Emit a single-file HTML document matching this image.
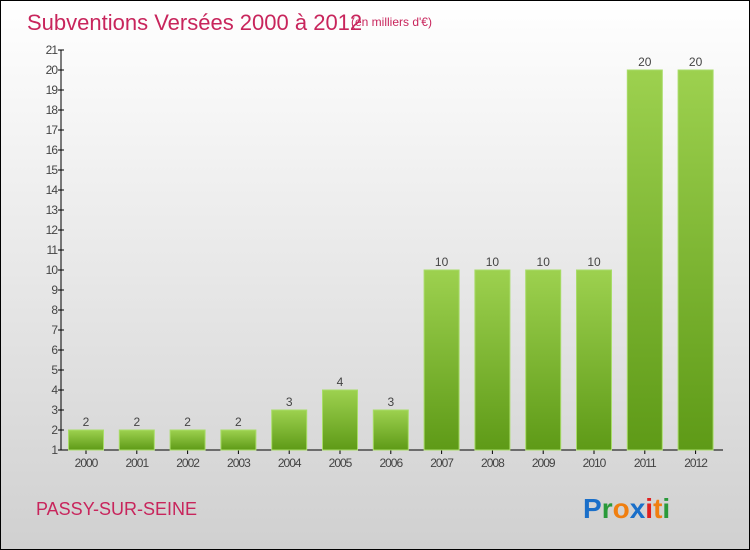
<!DOCTYPE html>
<html><head><meta charset="utf-8"><style>
body{margin:0}
#c{position:relative;width:748px;height:548px;border:1px solid #000;background:linear-gradient(#ffffff,#d0d0d0);font-family:"Liberation Sans",sans-serif;overflow:hidden}
</style></head><body>
<div id="c">
<svg width="748" height="548" style="position:absolute;left:0;top:0">
<defs><linearGradient id="g" x1="0" y1="0" x2="0" y2="1"><stop offset="0" stop-color="#9dd14f"/><stop offset="1" stop-color="#5e9a17"/></linearGradient></defs>
<text x="26" y="29" font-size="22" fill="#c8255c">Subventions Versées 2000 à 2012</text>
<text x="350" y="25" font-size="12" fill="#c8255c">(en milliers d'€)</text>
<text x="35" y="514" font-size="18" fill="#c8255c">PASSY-SUR-SEINE</text>
<g id="axes"></g><g id="bars"></g>
<text x="582" y="517" font-size="28" font-weight="bold"><tspan fill="#1a6fc9">P</tspan><tspan fill="#2a9a3a">r</tspan><tspan fill="#f07f10">o</tspan><tspan fill="#1a6fc9">x</tspan><tspan fill="#e02020">i</tspan><tspan fill="#f07f10">t</tspan><tspan fill="#2a9a3a">i</tspan></text>
</svg>
<script>
const categories=["2000","2001","2002","2003","2004","2005","2006","2007","2008","2009","2010","2011","2012"];
const values=[2,2,2,2,3,4,3,10,10,10,10,20,20];
const yTicks=[1,2,3,4,5,6,7,8,9,10,11,12,13,14,15,16,17,18,19,20,21];
const NS="http://www.w3.org/2000/svg";
const y=v=>449-(v-1)*20;
const x=i=>85+i*50.8;
const ax=document.getElementById('axes'),bg=document.getElementById('bars');
function mk(t,a,p){const e=document.createElementNS(NS,t);for(const k in a)e.setAttribute(k,a[k]);p.appendChild(e);return e;}
let l=mk('line',{x1:60,y1:y(21),x2:60,y2:449,stroke:'#000'},ax);


l=mk('line',{x1:60,y1:449,x2:722,y2:449,stroke:'#000'},ax);


yTicks.forEach(v=>{
 const t=mk('line',{x1:57,x2:63,y1:y(v),y2:y(v),stroke:'#000'},ax);
 
 
 const tx=mk('text',{x:56,y:y(v)+4,'font-size':12,fill:'#444','text-anchor':'end','letter-spacing':'-1'},ax);
 tx.textContent=v;
 
 
});
categories.forEach((c,i)=>{
 const cx=x(i),w=35,top=y(values[i]);
 const r=mk('rect',{x:cx-w/2,y:top,width:w,height:449-top,fill:'url(#g)',stroke:'#a8dc68','stroke-width':1},bg);
 
 
 const vt=mk('text',{x:cx,y:top-4,'font-size':12,fill:'#444','text-anchor':'middle'},bg);
 vt.textContent=values[i];
 
 
 const tk=mk('line',{x1:cx,x2:cx,y1:449,y2:453,stroke:'#000'},ax);
 
 
 const xt=mk('text',{x:cx,y:466,'font-size':12,fill:'#444','text-anchor':'middle','letter-spacing':'-1'},ax);
 xt.textContent=c;
 
 
});
</script>
</div></body></html>
